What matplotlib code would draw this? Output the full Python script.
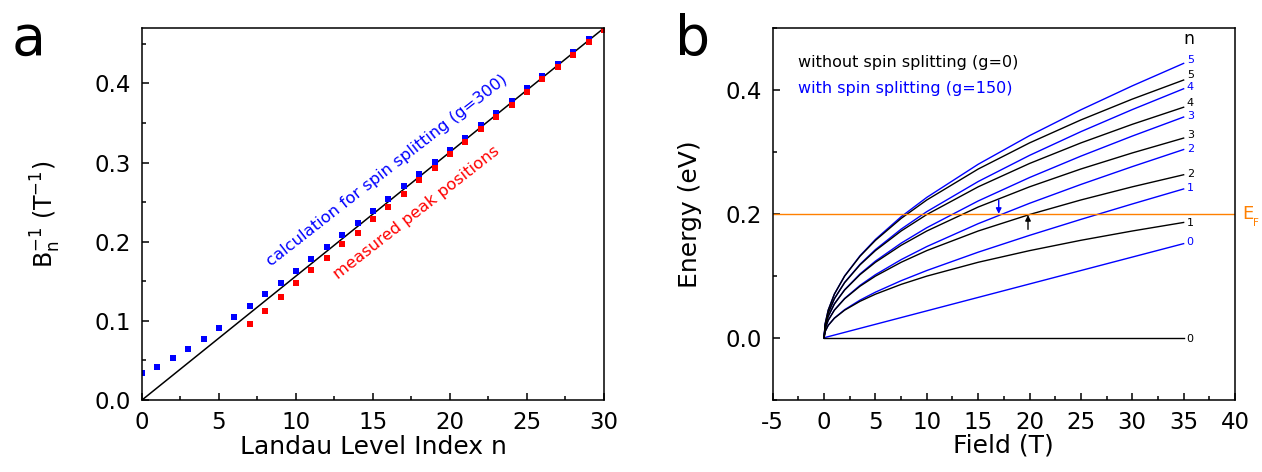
import matplotlib
matplotlib.use('Agg')
import matplotlib.pyplot as plt
from matplotlib.ticker import MultipleLocator, FormatStrFormatter
import matplotlib.transforms as mtransforms

plt.rcParams['font.family'] = ['DejaVu Sans']
plt.rcParams['axes.unicode_minus'] = False
plt.rcParams['mathtext.default'] = 'regular'

# ---- panel a: inverse field of the peaks vs Landau level index
n_calc = list(range(0, 30))
b_calc = [0.0337, 0.042, 0.053, 0.0648, 0.0774, 0.0905, 0.1048, 0.119, 0.1334, 0.148,
          0.1633, 0.1785, 0.1932, 0.2088, 0.2239, 0.239, 0.2542, 0.2698, 0.285, 0.3005,
          0.316, 0.3316, 0.3472, 0.3628, 0.3784, 0.394, 0.4095, 0.4247, 0.4402, 0.4558]
n_meas = list(range(7, 31))
b_meas = [0.096, 0.1124, 0.13, 0.148, 0.1646, 0.1793, 0.197, 0.2109, 0.2281, 0.2433,
          0.2605, 0.2778, 0.2933, 0.3106, 0.3258, 0.3422, 0.3577, 0.3733, 0.3893, 0.4057,
          0.421, 0.4365, 0.4524, 0.468]
n_fit = [0, 30]
b_fit = [0, 0.47]

# ---- panel b: Landau level fan
field = [0, 0.1, 0.4, 1, 2, 3.5, 5, 7.5, 10, 15, 20, 25, 30, 35]
e_black_0 = [0] * 14
e_black_1 = [0, 0.00994, 0.01989, 0.03145, 0.04448, 0.05884, 0.07032, 0.08613, 0.09946, 0.1218, 0.1406, 0.1573, 0.1723, 0.1861]
e_black_2 = [0, 0.01406, 0.02813, 0.04448, 0.0629, 0.08321, 0.09946, 0.1218, 0.1407, 0.1723, 0.1989, 0.2224, 0.2436, 0.2631]
e_black_3 = [0, 0.01722, 0.03445, 0.05447, 0.07703, 0.1019, 0.1218, 0.1492, 0.1723, 0.2110, 0.2436, 0.2724, 0.2983, 0.3223]
e_black_4 = [0, 0.01989, 0.03978, 0.0629, 0.08895, 0.1177, 0.1407, 0.1723, 0.1989, 0.2436, 0.2813, 0.3145, 0.3445, 0.3721]
e_black_5 = [0, 0.02224, 0.04448, 0.07032, 0.09945, 0.1316, 0.1572, 0.1926, 0.2224, 0.2723, 0.3145, 0.3516, 0.3852, 0.416]
e_blue_0 = [0, 0.00043, 0.00174, 0.00434, 0.00868, 0.01519, 0.0217, 0.03255, 0.0434, 0.0651, 0.0868, 0.1085, 0.1302, 0.1519]
e_blue_1 = [0, 0.00995, 0.01997, 0.03175, 0.04531, 0.06076, 0.07359, 0.09207, 0.10851, 0.13811, 0.16527, 0.19104, 0.21592, 0.24019]
e_blue_2 = [0, 0.01407, 0.02818, 0.04469, 0.06349, 0.08458, 0.10179, 0.12607, 0.14719, 0.18414, 0.21701, 0.24743, 0.27621, 0.30382]
e_blue_3 = [0, 0.01723, 0.03449, 0.05464, 0.07752, 0.10303, 0.12372, 0.15268, 0.17763, 0.22078, 0.2586, 0.29317, 0.32552, 0.35626]
e_blue_4 = [0, 0.0199, 0.03982, 0.06305, 0.08937, 0.11865, 0.14231, 0.1753, 0.20358, 0.25215, 0.29437, 0.33267, 0.36828, 0.40191]
e_blue_5 = [0, 0.02224, 0.04451, 0.07046, 0.09983, 0.13243, 0.15873, 0.19531, 0.22657, 0.28002, 0.32624, 0.36796, 0.40657, 0.44289]
lbl_black_y = [-0.002, 0.185, 0.265, 0.327, 0.3796, 0.424]
lbl_blue_y = [0.154, 0.241, 0.304, 0.358, 0.405, 0.448]
level_names = ['0', '1', '2', '3', '4', '5']
e_fermi = 0.2

fig = plt.figure(figsize=(12.62, 4.72), dpi=100)
ax1 = fig.add_axes([0.1125, 0.1525, 0.3661, 0.7881])
ax2 = fig.add_axes([0.6123, 0.1532, 0.3663, 0.7875])

for ax in (ax1, ax2):
    for sp in ax.spines.values():
        sp.set_linewidth(1.1)
    ax.tick_params(which='both', direction='in', top=False, right=False,
                   labelsize=16.5, width=1.1, pad=8)
    ax.tick_params(which='major', length=5)
    ax.tick_params(which='minor', length=3)

# panel a
ax1.plot(n_fit, b_fit, color='black', lw=1.1)
ax1.plot(n_calc, b_calc, 's', color='#0000ff', ms=4.4, mew=0)
ax1.plot(n_meas, b_meas, 's', color='#ff0000', ms=4.4, mew=0)
ax1.set_xlim(0, 30)
ax1.set_ylim(0, 0.47)
ax1.xaxis.set_major_locator(MultipleLocator(5))
ax1.xaxis.set_minor_locator(MultipleLocator(2.5))
ax1.yaxis.set_major_locator(MultipleLocator(0.1))
ax1.yaxis.set_minor_locator(MultipleLocator(0.05))
ax1.yaxis.set_major_formatter(FormatStrFormatter('%.1f'))
ax1.set_xlabel('Landau Level Index n', fontsize=18)
ax1.set_ylabel(r'B$_n^{-1}$ (T$^{-1}$)', fontsize=17)
ax1.xaxis.set_label_coords(0.5, -0.095)
ax1.yaxis.set_label_coords(-0.17, 0.5)
ax1.text(8.4, 0.168, 'calculation for spin splitting (g=300)', color='#0000ff',
         fontsize=11.8, rotation=38, rotation_mode='anchor', ha='left', va='baseline')
ax1.text(12.75, 0.152, 'measured peak positions', color='#ff0000',
         fontsize=11.8, rotation=38, rotation_mode='anchor', ha='left', va='baseline')

# panel b
blacks = [e_black_0, e_black_1, e_black_2, e_black_3, e_black_4, e_black_5]
blues = [e_blue_0, e_blue_1, e_blue_2, e_blue_3, e_blue_4, e_blue_5]
for e in blues:
    ax2.plot(field, e, color='#0000ff', lw=1.0)
for e in blacks:
    ax2.plot(field, e, color='black', lw=1.0)
ax2.axhline(e_fermi, color='#ff8000', lw=1.0)
for name, y in zip(level_names, lbl_black_y):
    ax2.text(35.3, y, name, color='black', fontsize=8, ha='left', va='center')
for name, y in zip(level_names, lbl_blue_y):
    ax2.text(35.3, y, name, color='#0000ff', fontsize=8, ha='left', va='center')
ax2.text(35.5, 0.482, 'n', fontsize=12.5, ha='center', va='center')
ax2.text(-2.5, 0.4435, 'without spin splitting (g=0)', fontsize=11.5, color='black', va='center')
ax2.text(-2.5, 0.4016, 'with spin splitting (g=150)', fontsize=11.5, color='#0000ff', va='center')

ax2.annotate('', xy=(17.0, 0.2), xytext=(17.0, 0.222),
             arrowprops=dict(arrowstyle='-|>', color='#0000ff', lw=1.0,
                             mutation_scale=8, shrinkA=0, shrinkB=0))
ax2.annotate('', xy=(19.85, 0.198), xytext=(19.85, 0.175),
             arrowprops=dict(arrowstyle='-|>', color='black', lw=1.0,
                             mutation_scale=8, shrinkA=0, shrinkB=0))

trans = mtransforms.blended_transform_factory(ax2.transAxes, ax2.transData)
ax2.text(1.015, e_fermi, 'E', color='#ff8000', fontsize=13, ha='left', va='center',
         transform=trans, clip_on=False)
ax2.text(1.039, 0.185, 'F', color='#ff8000', fontsize=7.5, ha='left', va='center',
         transform=trans, clip_on=False)

ax2.set_xlim(-5, 40)
ax2.set_ylim(-0.1, 0.5)
ax2.xaxis.set_major_locator(MultipleLocator(5))
ax2.xaxis.set_minor_locator(MultipleLocator(2.5))
ax2.yaxis.set_major_locator(MultipleLocator(0.2))
ax2.yaxis.set_minor_locator(MultipleLocator(0.1))
ax2.yaxis.set_major_formatter(FormatStrFormatter('%.1f'))
ax2.set_xlabel('Field (T)', fontsize=18)
ax2.set_ylabel('Energy (eV)', fontsize=18)
ax2.xaxis.set_label_coords(0.5, -0.09)
ax2.yaxis.set_label_coords(-0.153, 0.5)

fig.text(12 / 1262, 0.8835, 'a', fontsize=40, va='baseline', ha='left')
fig.text(675 / 1262, 0.8835, 'b', fontsize=40, va='baseline', ha='left')

fig.savefig('out.png', dpi=100)
